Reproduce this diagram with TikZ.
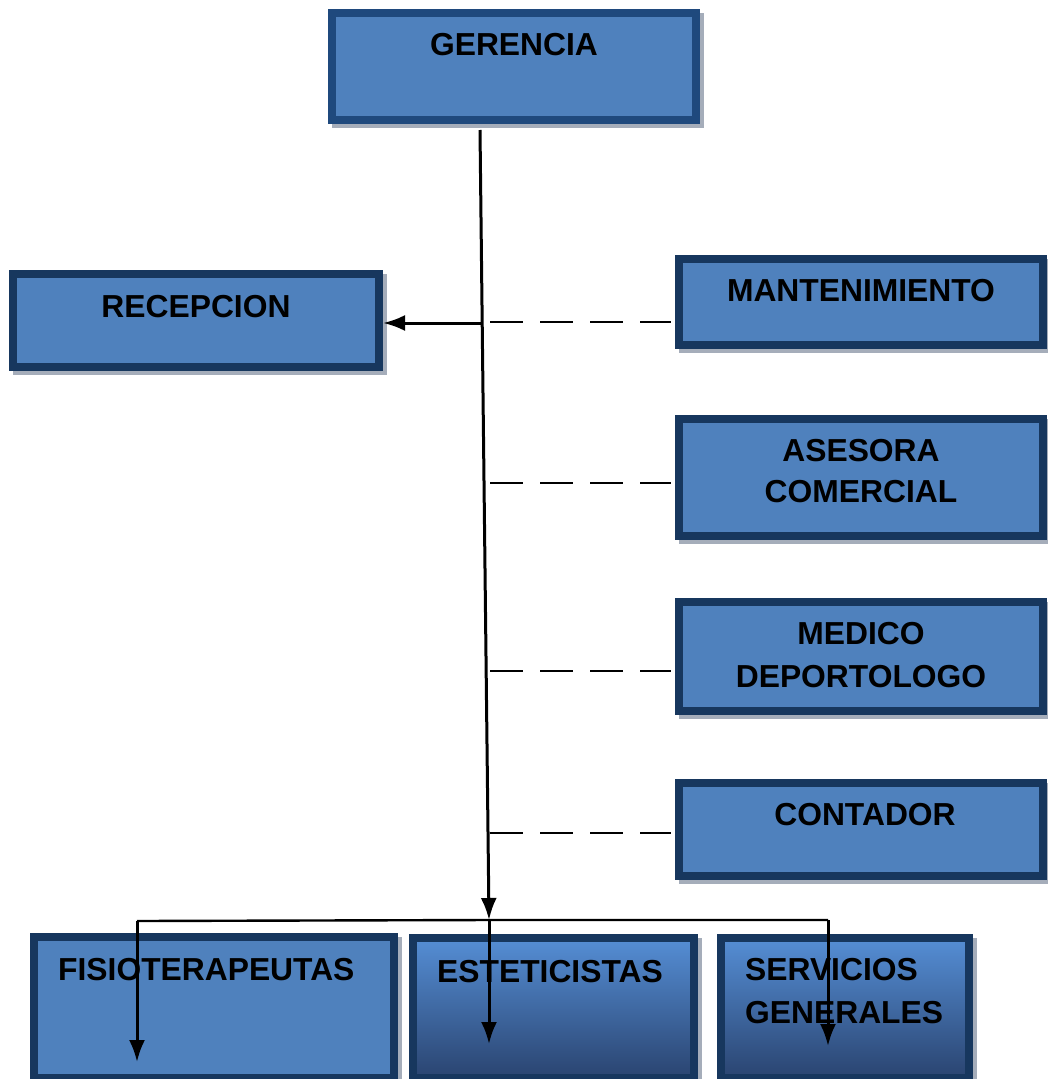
\documentclass[tikz,border=0pt]{standalone}
\usepackage{fontspec}
\setmainfont{Liberation Sans}
\usetikzlibrary{arrows.meta}
\definecolor{boxfill}{HTML}{4F81BD}
\definecolor{bordtop}{HTML}{1F497D}
\definecolor{bord}{HTML}{17375E}
\definecolor{shadowc}{HTML}{A5ADBA}
\definecolor{gtop}{HTML}{558ED5}
\definecolor{gmid}{HTML}{4A77B0}
\definecolor{gbot}{HTML}{2A4470}
\tikzset{
  orgbox/.style={draw=bord, line width=8pt, fill=boxfill, rectangle, inner sep=0pt,
    preaction={draw=shadowc, fill=shadowc, line width=8pt, transform canvas={xshift=4pt,yshift=-4pt}}},
  gradbox/.style={orgbox, fill=none, top color=gtop, middle color=gmid, bottom color=gbot},
  lbl/.style={inner sep=0pt, font=\fontsize{31.8}{36}\selectfont\bfseries},
  conn/.style={line width=3pt, black},
  arr/.style={conn, -{Latex[length=22pt,width=16pt]}},
  dsh/.style={line width=2.4pt, black, dash pattern=on 33pt off 17pt, shorten >=4pt}
}
\begin{document}
\begin{tikzpicture}[x=1pt,y=-1pt]
\useasboundingbox (0,0) rectangle (1048,1079);
\fill[white] (0,0) rectangle (1048,1079);
% boxes
\node[orgbox, draw=bordtop, minimum width=364pt, minimum height=107pt] (ger) at (514,66.5) {};
\node[orgbox, minimum width=366pt, minimum height=93pt] (rec) at (196,320.5) {};
\node[orgbox, minimum width=364pt, minimum height=86pt] (man) at (861,302) {};
\node[orgbox, minimum width=364pt, minimum height=117pt] (ase) at (861,477.5) {};
\node[orgbox, minimum width=364pt, minimum height=109pt] (med) at (861,656.5) {};
\node[orgbox, minimum width=364pt, minimum height=93pt] (con) at (861,829.5) {};
\node[orgbox, minimum width=360pt, minimum height=141pt] (fis) at (214,1007.5) {};
\node[gradbox, minimum width=281pt, minimum height=140pt] (est) at (553.5,1008) {};
\node[gradbox, minimum width=248pt, minimum height=140pt] (ser) at (845,1008) {};
% labels
\node[lbl] (tger) at (514,44.5) {GERENCIA};
\node[lbl] (trec) at (196,306.5) {RECEPCION};
\node[lbl] (tman) at (861,291) {MANTENIMIENTO};
\node[lbl, align=center, font=\fontsize{31.8}{41}\selectfont\bfseries] (tase) at (861,471.5) {ASESORA\\COMERCIAL};
\node[lbl, align=center, font=\fontsize{31.8}{43}\selectfont\bfseries] (tmed) at (861,655.5) {MEDICO\\DEPORTOLOGO};
\node[lbl] (tcon) at (865,815) {CONTADOR};
\node[lbl, anchor=west] (tfis) at (58,970) {FISIOTERAPEUTAS};
\node[lbl, anchor=west] (test) at (437,971.5) {ESTETICISTAS};
\node[lbl, anchor=west, align=left, font=\fontsize{31.8}{43}\selectfont\bfseries] (tser) at (745,991.5) {SERVICIOS\\GENERALES};
% connector coordinates
\coordinate (top) at (480,130);
\coordinate (hub) at (489,920);
\coordinate (j0) at (481,323);
\coordinate (d1) at (490,322);
\coordinate (d2) at (490,483);
\coordinate (d3) at (490,671);
\coordinate (d4) at (490,833);
\coordinate (hl) at (137,921);
\coordinate (hr) at (828,920);
\coordinate (el) at (137,1062);
\coordinate (em) at (489,1044);
\coordinate (er) at (828,1046);
% connectors
\draw[arr] (top) -- (hub);
\draw[arr] (j0) -- (rec.east |- j0);
\draw[dsh] (d1) -- (man.west |- d1);
\draw[dsh] (d2) -- (ase.west |- d2);
\draw[dsh] (d3) -- (med.west |- d3);
\draw[dsh] (d4) -- (con.west |- d4);
\draw[conn, line width=2.4pt] (hl) -- (hub) -- (hr);
\draw[arr] (hl) -- (el);
\draw[arr] (hub) -- (em);
\draw[arr] (hr) -- (er);
\end{tikzpicture}
\end{document}
